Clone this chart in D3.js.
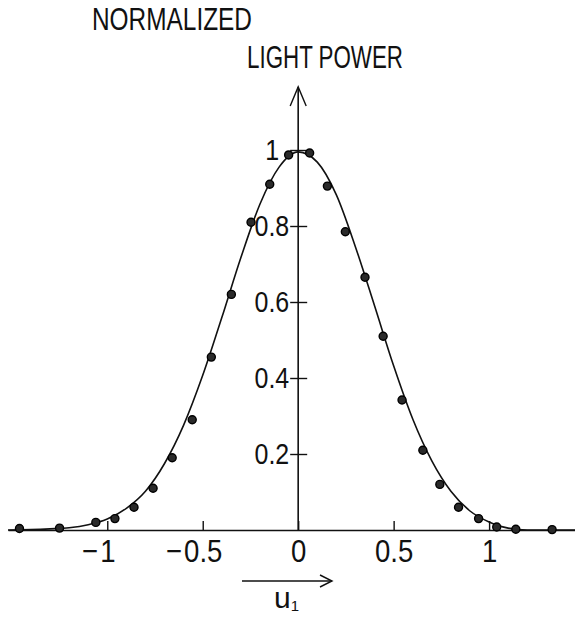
<!DOCTYPE html>
<html>
<head>
<meta charset="utf-8">
<script src="https://cdn.jsdelivr.net/npm/d3@7"></script>
<style>
  html, body { margin: 0; padding: 0; background: #fff; }
  svg { display: block; }
  text { font-family: "Liberation Sans", Arial, sans-serif; fill: #111; }
</style>
</head>
<body>
<svg id="chart" width="575" height="618"></svg>
<script>
// Measured light power across the fibre end face (dots) and fitted profile (line)
const measuredU = [-1.46, -1.25, -1.06, -0.96, -0.86, -0.76, -0.66, -0.555, -0.455, -0.35,
                   -0.247, -0.149, -0.05, 0.06, 0.153, 0.247, 0.35, 0.445, 0.544, 0.653,
                   0.742, 0.84, 0.945, 1.04, 1.14, 1.33];
const measuredP = [0.004, 0.005, 0.02, 0.03, 0.06, 0.11, 0.19, 0.29, 0.455, 0.62,
                   0.81, 0.91, 0.987, 0.992, 0.905, 0.785, 0.665, 0.51, 0.342, 0.21,
                   0.12, 0.06, 0.03, 0.008, 0.002, 0.001];

const profileU = [-1.52, -1.4, -1.3, -1.2, -1.1, -1.0, -0.9, -0.8, -0.7, -0.6, -0.5,
                  -0.4, -0.3, -0.2, -0.1, 0, 0.1, 0.2, 0.3, 0.4, 0.5, 0.6, 0.7, 0.8,
                  0.9, 1.0, 1.05, 1.1, 1.2, 1.45];
const profileP = [0, 0.001, 0.003, 0.006, 0.014, 0.029, 0.057, 0.102, 0.175, 0.276, 0.407,
                  0.559, 0.717, 0.858, 0.955, 0.995, 0.968, 0.882, 0.745, 0.59, 0.432, 0.292,
                  0.182, 0.102, 0.05, 0.021, 0.011, 0.005, 0, 0];

const xTicks = [-1, -0.5, 0, 0.5, 1];
const yTicks = [0.2, 0.4, 0.6, 0.8, 1];
const yTitle = ["NORMALIZED", "LIGHT POWER"];
const xTitle = "u";
const xTitleSub = "1";

const svg = d3.select("#chart");
const ink = "#111";
const font = "Liberation Sans, Arial, sans-serif";
const squeeze = 0.86;   // narrow lettering

const x = d3.scaleLinear().domain([-1.52, 1.45]).range([8, 575]);
const y = d3.scaleLinear().domain([0, 1]).range([530, 150]);
const x0 = x(0);

function narrow(sel) {
  sel.each(function() {
    const w = this.getComputedTextLength();
    d3.select(this).attr("textLength", w * squeeze).attr("lengthAdjust", "spacingAndGlyphs");
  });
}

// horizontal axis with upward ticks
const gx = svg.append("g").attr("transform", `translate(0,${y(0)})`)
  .call(d3.axisBottom(x).tickValues(xTicks).tickSizeInner(-9).tickSizeOuter(0).tickPadding(9)
        .tickFormat(d => String(Math.abs(d))));
gx.select(".domain").attr("stroke", ink).attr("stroke-width", 1.6);
gx.selectAll(".tick line").attr("stroke", ink).attr("stroke-width", 1.4);
gx.selectAll(".tick text")
  .attr("font-size", 32).attr("fill", ink).attr("font-family", font)
  .attr("dy", "0.72em")
  .call(narrow);
// minus sign hangs to the left of the centred digits
gx.selectAll(".tick").each(function(d) {
  if (d >= 0) return;
  const t = d3.select(this).select("text");
  const w = +t.attr("textLength");
  d3.select(this).append("text")
    .attr("x", -w / 2 - 2).attr("y", 9).attr("dy", "0.72em")
    .attr("text-anchor", "end").attr("font-size", 32).attr("fill", ink)
    .attr("font-family", font)
    .text("\u2212")
    .call(narrow);
});

// vertical axis: ticks cross the line, labels on the left
const gyL = svg.append("g").attr("transform", `translate(${x0},0)`)
  .call(d3.axisLeft(y).tickValues(yTicks).tickSizeInner(8).tickSizeOuter(0).tickPadding(1)
        .tickFormat(d => String(d)));
const gyR = svg.append("g").attr("transform", `translate(${x0},0)`)
  .call(d3.axisRight(y).tickValues(yTicks).tickSizeInner(9).tickSizeOuter(0).tickFormat(""));
[gyL, gyR].forEach(g => {
  g.select(".domain").remove();
  g.selectAll(".tick line").attr("stroke", ink).attr("stroke-width", 1.4);
});
gyL.selectAll(".tick text")
  .attr("font-size", 29).attr("fill", ink).attr("font-family", font)
  .attr("dx", d => d === 1 ? -10 : 0)
  .call(narrow);

// vertical axis line with open arrow head
const yTop = y(1.166);
svg.append("line").attr("x1", x0).attr("x2", x0).attr("y1", y(0)).attr("y2", yTop)
  .attr("stroke", ink).attr("stroke-width", 1.6);
svg.append("path")
  .attr("d", `M${x0 - 8},${yTop + 19} L${x0},${yTop} L${x0 + 8},${yTop + 19}`)
  .attr("fill", "none").attr("stroke", ink).attr("stroke-width", 1.4);

// fitted profile
const line = d3.line().x(d => x(d[0])).y(d => y(d[1])).curve(d3.curveMonotoneX);
svg.append("path")
  .datum(profileU.map((u, i) => [u, profileP[i]]))
  .attr("d", line)
  .attr("fill", "none").attr("stroke", ink).attr("stroke-width", 1.6);

// measured points
svg.append("g").selectAll("circle")
  .data(measuredU.map((u, i) => [u, measuredP[i]]))
  .join("circle")
  .attr("cx", d => x(d[0])).attr("cy", d => y(d[1])).attr("r", 4)
  .attr("fill", "#2a2a2a").attr("stroke", "#000").attr("stroke-width", 1.4);

// axis titles
svg.append("text").attr("x", 92).attr("y", 30).attr("font-size", 31)
  .attr("textLength", 160).attr("lengthAdjust", "spacingAndGlyphs").text(yTitle[0]);
svg.append("text").attr("x", 247).attr("y", 68).attr("font-size", 31)
  .attr("textLength", 156).attr("lengthAdjust", "spacingAndGlyphs").text(yTitle[1]);

// u1 arrow below the horizontal axis
const ay = 581;
svg.append("line").attr("x1", 242).attr("x2", 332).attr("y1", ay).attr("y2", ay)
  .attr("stroke", ink).attr("stroke-width", 1.4);
svg.append("path").attr("d", `M320,${ay - 6} L332,${ay} L320,${ay + 6}`)
  .attr("fill", "none").attr("stroke", ink).attr("stroke-width", 1.4);
const ut = svg.append("text").attr("x", 274).attr("y", 608).attr("font-size", 30);
ut.append("tspan").text(xTitle);
ut.append("tspan").attr("font-size", 15).attr("dy", 3).text(xTitleSub);
</script>
</body>
</html>
